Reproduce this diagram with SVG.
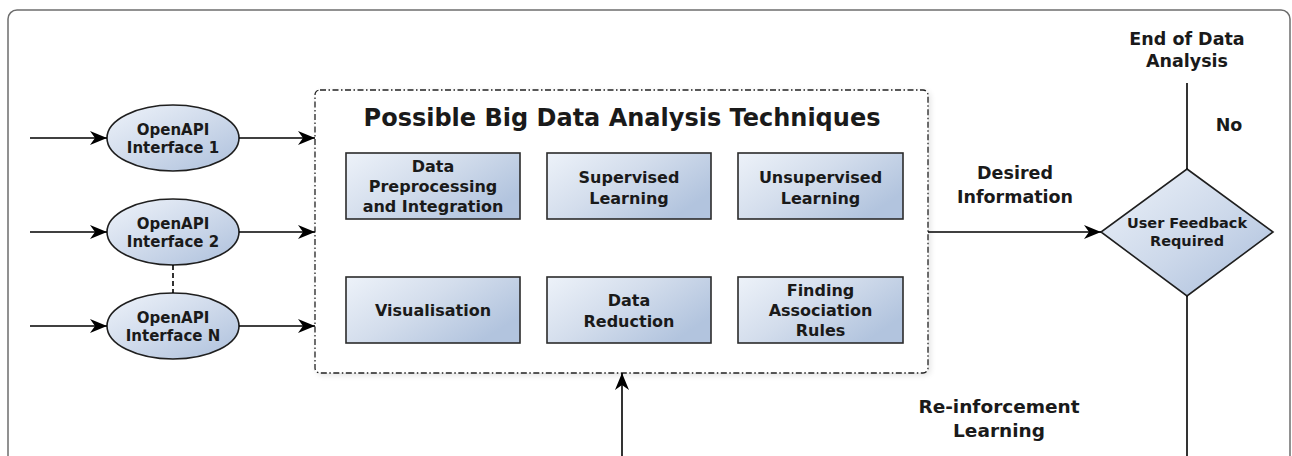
<svg xmlns="http://www.w3.org/2000/svg" width="1292" height="456" viewBox="0 0 1292 456">
<defs>
  <linearGradient id="gBox" x1="0" y1="0" x2="1" y2="0.6">
    <stop offset="0" stop-color="#edf2f9"/>
    <stop offset="0.5" stop-color="#d3ddec"/>
    <stop offset="1" stop-color="#b2c4de"/>
  </linearGradient>
  <linearGradient id="gEll" x1="0" y1="0" x2="1" y2="1">
    <stop offset="0" stop-color="#eef3fa"/>
    <stop offset="0.5" stop-color="#cfdaeb"/>
    <stop offset="1" stop-color="#adc0dc"/>
  </linearGradient>
  <linearGradient id="gDia" x1="0" y1="0" x2="1" y2="1">
    <stop offset="0" stop-color="#edf2f9"/>
    <stop offset="0.55" stop-color="#ccd8ea"/>
    <stop offset="1" stop-color="#a9bddb"/>
  </linearGradient>
  <filter id="soft" x="-10%" y="-10%" width="120%" height="120%">
    <feGaussianBlur stdDeviation="3"/>
  </filter>
  <marker id="arr" markerUnits="userSpaceOnUse" markerWidth="17" markerHeight="14" refX="17" refY="7" orient="auto">
    <path d="M0,0 L17,7 L0,14 L5,7 Z" fill="#000"/>
  </marker>
  <style>
    .t { font-family: "DejaVu Sans", "Liberation Sans", sans-serif; font-weight: bold; fill: #1a1a1a; text-anchor: middle; }
    .box { fill: url(#gBox); stroke: #2b2b2b; stroke-width: 1.6; }
    .ell { fill: url(#gEll); stroke: #1f1f1f; stroke-width: 1.6; }
    .ln { stroke: #000; stroke-width: 1.6; fill: none; }
    .f15 { font-size: 15px; }
    .f16 { font-size: 16px; }
    .f17 { font-size: 17.5px; }
  </style>
</defs>

<rect x="8" y="10" width="1282" height="470" rx="9" fill="#fff" stroke="#6e6e6e" stroke-width="1.5"/>

<g id="techniques">
  <rect x="317" y="92" width="613" height="283" rx="5" fill="#000" opacity="0.12" filter="url(#soft)"/>
  <rect x="315" y="90" width="613" height="283" rx="5" fill="#fff" stroke="#222" stroke-width="1.3" stroke-dasharray="6 2.5 1.5 2.5"/>
  <text class="t" x="622" y="126" style="font-size:24px">Possible Big Data Analysis Techniques</text>
</g>

<g id="box-preprocessing">
  <rect class="box" x="346" y="153" width="174" height="66"/>
  <text class="t f16" x="433" y="172">Data</text>
  <text class="t f16" x="433" y="192">Preprocessing</text>
  <text class="t f16" x="433" y="212">and Integration</text>
</g>
<g id="box-supervised">
  <rect class="box" x="547" y="153" width="164" height="66"/>
  <text class="t f16" x="629" y="183">Supervised</text>
  <text class="t f16" x="629" y="204">Learning</text>
</g>
<g id="box-unsupervised">
  <rect class="box" x="738" y="153" width="165" height="66"/>
  <text class="t f16" x="820.5" y="183">Unsupervised</text>
  <text class="t f16" x="820.5" y="204">Learning</text>
</g>
<g id="box-visualisation">
  <rect class="box" x="346" y="277" width="174" height="66"/>
  <text class="t f16" x="433" y="316">Visualisation</text>
</g>
<g id="box-reduction">
  <rect class="box" x="547" y="277" width="164" height="66"/>
  <text class="t f16" x="629" y="306">Data</text>
  <text class="t f16" x="629" y="327">Reduction</text>
</g>
<g id="box-association">
  <rect class="box" x="738" y="277" width="165" height="66"/>
  <text class="t f16" x="820.5" y="296">Finding</text>
  <text class="t f16" x="820.5" y="316">Association</text>
  <text class="t f16" x="820.5" y="336">Rules</text>
</g>

<g id="api1">
  <ellipse class="ell" cx="173" cy="138" rx="66" ry="33"/>
  <text class="t f15" x="173" y="135">OpenAPI</text>
  <text class="t f15" x="173" y="153">Interface 1</text>
</g>
<g id="api2">
  <ellipse class="ell" cx="173" cy="232" rx="66" ry="33"/>
  <text class="t f15" x="173" y="229">OpenAPI</text>
  <text class="t f15" x="173" y="247">Interface 2</text>
</g>
<g id="apiN">
  <ellipse class="ell" cx="173" cy="326" rx="66" ry="33"/>
  <text class="t f15" x="173" y="323">OpenAPI</text>
  <text class="t f15" x="173" y="341">Interface N</text>
</g>

<g id="feedback">
  <polygon points="1187,169 1273,232 1187,296 1101,232" fill="url(#gDia)" stroke="#1f1f1f" stroke-width="1.6"/>
  <text class="t" x="1187" y="228" style="font-size:14.5px">User Feedback</text>
  <text class="t" x="1187" y="246" style="font-size:14.5px">Required</text>
</g>

<g id="labels">
  <text class="t f17" x="1187" y="45">End of Data</text>
  <text class="t f17" x="1187" y="67">Analysis</text>
  <text class="t f17" x="1229" y="131">No</text>
  <text class="t f17" x="1015" y="179">Desired</text>
  <text class="t f17" x="1015" y="203">Information</text>
  <text class="t" x="999" y="413" style="font-size:18.5px">Re-inforcement</text>
  <text class="t" x="999" y="437" style="font-size:18.5px">Learning</text>
</g>

<g id="connectors">
  <line class="ln" x1="30" y1="138" x2="107" y2="138" marker-end="url(#arr)"/>
  <line class="ln" x1="30" y1="232" x2="107" y2="232" marker-end="url(#arr)"/>
  <line class="ln" x1="30" y1="326" x2="107" y2="326" marker-end="url(#arr)"/>
  <line class="ln" x1="239" y1="138" x2="315" y2="138" marker-end="url(#arr)"/>
  <line class="ln" x1="239" y1="232" x2="315" y2="232" marker-end="url(#arr)"/>
  <line class="ln" x1="239" y1="326" x2="315" y2="326" marker-end="url(#arr)"/>
  <line class="ln" x1="173" y1="265" x2="173" y2="293" stroke-dasharray="5 3"/>
  <line class="ln" x1="928" y1="232" x2="1101" y2="232" marker-end="url(#arr)"/>
  <line class="ln" x1="1187" y1="169" x2="1187" y2="83"/>
  <line class="ln" x1="1187" y1="296" x2="1187" y2="460"/>
  <line class="ln" x1="622" y1="460" x2="622" y2="373" marker-end="url(#arr)"/>
</g>
</svg>
